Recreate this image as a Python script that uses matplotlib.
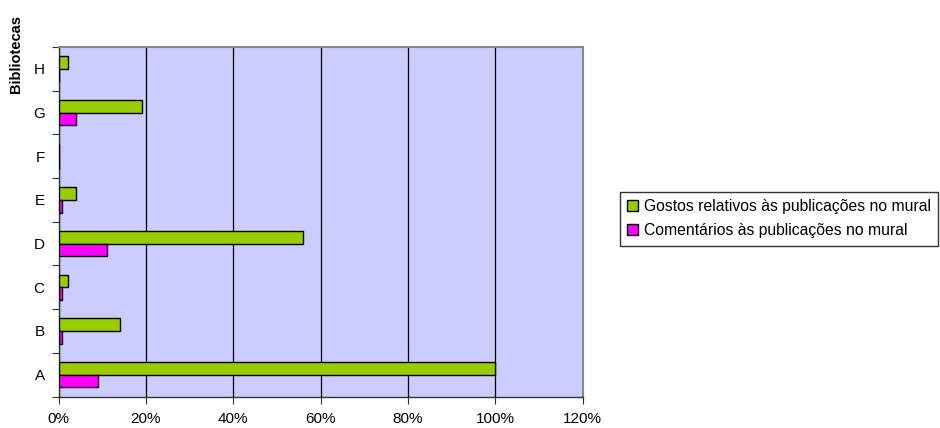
import numpy as np
import matplotlib.pyplot as plt
from matplotlib.ticker import PercentFormatter

plt.rcParams['font.family'] = ['Liberation Sans', 'DejaVu Sans']

# Data (percent)
bibliotecas = ['A', 'B', 'C', 'D', 'E', 'F', 'G', 'H']
gostos = [100, 14, 2.2, 56, 4, 0, 19.2, 2.2]
comentarios = [9, 0.9, 0.9, 11, 0.9, 0, 4, 0]

green = '#99CC00'
magenta = '#FF00FF'

fig = plt.figure(figsize=(9.4, 4.28), dpi=100)
ax = fig.add_axes([58.5 / 940, 1 - 396.5 / 428, 524 / 940, 349.5 / 428])
ax.set_facecolor('#CCCCFF')

y = np.arange(len(bibliotecas))
h = 0.29
ax.barh(y + h / 2, gostos, height=h, color=green, edgecolor='black',
        linewidth=1, label='Gostos relativos às publicações no mural', zorder=3)
ax.barh(y - h / 2, comentarios, height=h, color=magenta, edgecolor='black',
        linewidth=1, label='Comentários às publicações no mural', zorder=3)

ax.set_xlim(0, 120)
ax.set_ylim(-0.5, len(bibliotecas) - 0.5)
ax.set_xticks(np.arange(0, 121, 20))
ax.xaxis.set_major_formatter(PercentFormatter(decimals=0))
ax.grid(axis='x', color='black', linewidth=0.9, zorder=1)

# category labels centred, tick marks at boundaries
ax.set_yticks(y)
ax.set_yticklabels(bibliotecas)
ax.set_yticks(np.arange(-0.5, len(bibliotecas), 1), minor=True)
ax.tick_params(axis='y', which='major', length=0, pad=10, labelsize=11)
ax.tick_params(axis='y', which='minor', length=5, width=0.8, color='#333333')
ax.tick_params(axis='x', length=5, width=0.8, color='#333333', labelsize=11, pad=6)

for side in ['left', 'bottom']:
    ax.spines[side].set_color('#333333')
    ax.spines[side].set_linewidth(1)
for side in ['top', 'right']:
    ax.spines[side].set_color('#888888')
    ax.spines[side].set_linewidth(1.5)

fig.text(16.5 / 940, 1 - 15 / 428, 'Bibliotecas', rotation=90, fontsize=10.5,
         fontweight='bold', ha='center', va='top')

handles, labels = ax.get_legend_handles_labels()
leg = fig.legend(handles, labels, loc='upper left',
                 bbox_to_anchor=(620 / 940, 1 - 192 / 428), fontsize=11.3,
                 frameon=True, fancybox=False, handlelength=0.7,
                 handleheight=0.7, handletextpad=0.4, borderpad=0.45,
                 borderaxespad=0, labelspacing=0.6)
leg.get_frame().set_edgecolor('black')
leg.get_frame().set_linewidth(1)

fig.savefig('out.png', dpi=100)
